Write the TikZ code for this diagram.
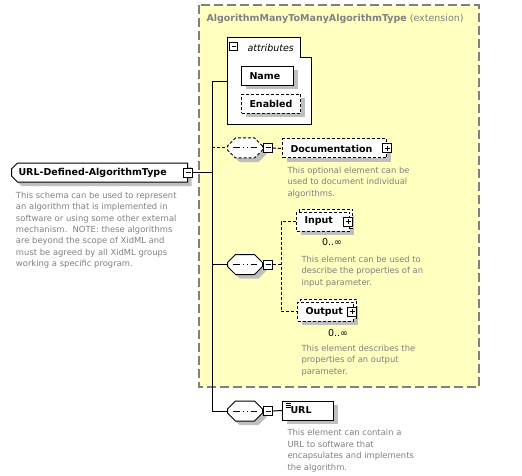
\documentclass[tikz,border=0pt]{standalone}
\usepackage{fontspec}
\setmainfont{DejaVu Sans}
\usepackage{tikz}
\usetikzlibrary{shapes.misc}
\usetikzlibrary{shadows}
\definecolor{grpfill}{RGB}{255,255,192}
\colorlet{grpline}{black!50}
\colorlet{desccol}{black!50}
\colorlet{shadecol}{black!25}
\tikzset{boxshadow/.style={drop shadow={shadow xshift=4pt,shadow yshift=-4pt,fill=shadecol,opacity=1}}}
\tikzset{opt/.style={dash pattern=on 3pt off 2pt}}
\tikzset{elem/.style={draw,fill=white,boxshadow,anchor=west,font=\fontsize{9.5}{11}\selectfont\bfseries,minimum height=19pt,inner xsep=8pt,inner ysep=0pt,align=left}}
\tikzset{many/.style={copy shadow={shadow xshift=3pt,shadow yshift=3pt,opt}}}
\tikzset{collapse/.style={draw,fill=white,minimum size=9pt,inner sep=0pt,path picture={\draw[solid] ([xshift=2pt]path picture bounding box.west) -- ([xshift=-2pt]path picture bounding box.east);}}}
\tikzset{expand/.style={draw,fill=white,minimum size=9pt,inner sep=0pt,path picture={\draw[solid] ([xshift=2pt]path picture bounding box.west) -- ([xshift=-2pt]path picture bounding box.east); \draw[solid] ([yshift=-2pt]path picture bounding box.north) -- ([yshift=2pt]path picture bounding box.south);}}}
\tikzset{seqbox/.style={draw,fill=white,boxshadow,chamfered rectangle,chamfered rectangle xsep=4pt,chamfered rectangle ysep=4pt,minimum width=35pt,minimum height=20pt,inner xsep=6pt,inner ysep=6pt,anchor=west,
  path picture={\draw[solid] ([xshift=-12pt]path picture bounding box.center) -- ([xshift=12pt]path picture bounding box.center);
    \fill ([shift={(-5.5pt,-1.5pt)}]path picture bounding box.center) rectangle ++(3pt,3pt);
    \fill ([shift={(-1.5pt,-1.5pt)}]path picture bounding box.center) rectangle ++(3pt,3pt);
    \fill ([shift={(2.5pt,-1.5pt)}]path picture bounding box.center) rectangle ++(3pt,3pt);}}}
\tikzset{desc/.style={anchor=north west,inner sep=0pt,align=left,text=desccol,font=\fontsize{8.4}{11.4}\selectfont}}
\tikzset{mult/.style={font=\fontsize{9.5}{11}\selectfont,inner sep=0pt}}

\begin{document}
\begin{tikzpicture}[x=1pt,y=-1pt,line width=1pt]
\useasboundingbox (0,0) rectangle (522,476);

\draw[grpline,fill=grpfill,line width=1.5pt,dash pattern=on 9pt off 4pt] (199,5) rectangle (479,387);
\node[anchor=base west,inner sep=0pt,text=desccol,font=\fontsize{9.5}{11}\selectfont] (grptitle) at (206,22) {\textbf{AlgorithmManyToManyAlgorithmType} (extension)};

\draw[fill=white] (227,38) -- (300,38) -- (300,58) -- (311,58) -- (311,125) -- (227,125) -- cycle;
\coordinate (attrs) at (227,82);
\node[collapse,minimum size=8pt] (attrspm) at (233.7,46.5) {};
\node[anchor=base west,inner sep=0pt,font=\fontsize{9.5}{11}\selectfont\itshape] (attrslbl) at (247,52) {attributes};
\node[elem,text width=36pt] (name) at (241,76) {Name};
\node[elem,opt,text width=43pt] (enabled) at (241,104) {Enabled};

\node[elem,chamfered rectangle,chamfered rectangle corners={north west,south west},chamfered rectangle xsep=3pt,chamfered rectangle ysep=3pt,inner xsep=4pt,text width=162pt] (main) at (11,172.5) {\mbox{URL-Defined-AlgorithmType}};
\node[collapse] (mainpm) at (main.east) {};
\node[desc] (maindesc) at (15.5,191.5) {This schema can be used to represent\\an algorithm that is implemented in\\software or using some other external\\mechanism.\ \ NOTE: these algorithms\\are beyond the scope of XidML and\\must be agreed by all XidML groups\\working a specific program.};

\coordinate (trunktop) at (212,82);
\coordinate (trunkbot) at (212,411);
\draw (attrs) -- (trunktop) -- (trunkbot);
\draw (mainpm.east) -- (mainpm.east -| trunktop);

\node[seqbox,opt] (seqA) at (227,148) {};
\node[collapse,anchor=west] (seqApm) at (seqA.east) {};
\node[elem,opt,text width=88pt] (doc) at (282,148.5) {Documentation};
\node[expand] (docpm) at (doc.east) {};
\node[desc] (docdesc) at (287,166.5) {This optional element can be\\used to document individual\\algorithms.};
\draw[opt] (seqA.west -| trunktop) -- (seqA.west);
\draw[opt] (seqApm.east) -- (doc.west);

\node[seqbox] (seqB) at (227,264.5) {};
\node[collapse,anchor=west] (seqBpm) at (seqB.east) {};
\coordinate (fork) at (281,264.5);
\node[elem,opt,many,text width=37pt] (inp) at (296,221.5) {Input};
\node[expand] (inppm) at ([xshift=-2pt]inp.east) {};
\node[mult] (inpmult) at (332,242) {0..∞};
\node[desc] (inpdesc) at (301,255.5) {This element can be used to\\describe the properties of an\\input parameter.};
\node[elem,opt,many,text width=40pt] (outp) at (297,311.5) {Output};
\node[expand] (outppm) at ([xshift=-2pt]outp.east) {};
\node[mult] (outpmult) at (338,333) {0..∞};
\node[desc] (outpdesc) at (301,344.5) {This element describes the\\properties of an output\\parameter.};
\draw (seqB.west -| trunktop) -- (seqB.west);
\draw[opt] (seqBpm.east) -- (fork);
\draw[opt] (inp.west) -| (fork) |- (outp.west);

\node[seqbox] (seqC) at (227,411) {};
\node[collapse,anchor=west] (seqCpm) at (seqC.east) {};
\node[elem,text width=35pt,path picture={\draw ([shift={(3pt,-2pt)}]path picture bounding box.north west) -- ++(5pt,0pt); \draw ([shift={(3pt,-4pt)}]path picture bounding box.north west) -- ++(5pt,0pt); \draw ([shift={(3pt,-6pt)}]path picture bounding box.north west) -- ++(5pt,0pt);}] (url) at (282,410.5) {URL};
\node[desc] (urldesc) at (287,429) {This element can contain a\\URL to software that\\encapsulates and implements\\the algorithm.};
\draw (trunkbot) -- (seqC.west);
\draw (seqCpm.east) -- (url.west);
\end{tikzpicture}
\end{document}
